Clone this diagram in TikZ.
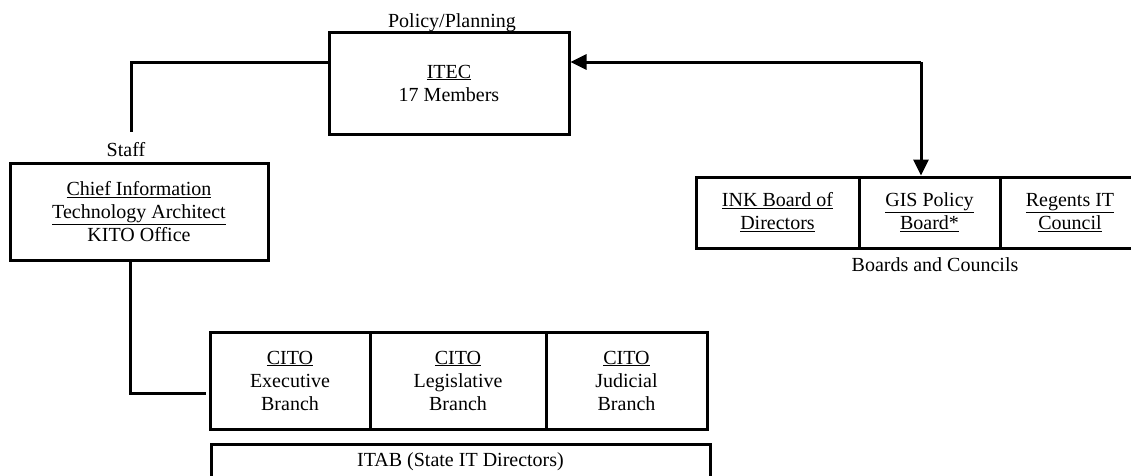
\documentclass[tikz,border=0pt]{standalone}
\usepackage{fontspec}
\setmainfont{Liberation Serif}
\usetikzlibrary{arrows.meta}

\begin{document}
\begin{tikzpicture}[x=1pt,y=-1pt,
  lbl/.style={font=\fontsize{20}{23}\selectfont, inner sep=0pt, align=center},
  orgbox/.style={draw, line width=3pt, inner sep=0pt, align=center,
                 font=\fontsize{20}{23}\selectfont},
  link/.style={line width=3pt},
  arr/.style={line width=3pt, -{Triangle[length=16pt,width=15pt]}}]

\useasboundingbox (0,0) rectangle (1131,475);
\clip (0,0) rectangle (1131,475);
\fill[white] (0,0) rectangle (1131,475);

% policy / planning committee
\node[orgbox, minimum width=240pt, minimum height=102pt] (itec) at (449,83)
  {\underline{ITEC}\\17 Members};
\node[lbl] (policy) at (452,23) {Policy/Planning};

% architect's office
\node[orgbox, minimum width=258pt, minimum height=97pt] (chief) at (139,211.5)
  {\underline{Chief Information}\\\underline{Technology Architect}\\KITO Office};
\node[lbl] (staff) at (126,150) {Staff};
\coordinate (stafftop) at (131,132);

% boards and councils
\node[orgbox, minimum width=163pt, minimum height=71pt] (ink) at (777.5,212.5)
  {\underline{INK Board of}\\\underline{Directors}};
\node[orgbox, minimum width=141pt, minimum height=71pt] (gis) at (929.5,212.5)
  {\underline{GIS Policy}\\\underline{Board*}};
\node[orgbox, minimum width=140pt, minimum height=71pt] (regents) at (1070,212.5)
  {\underline{Regents IT}\\\underline{Council}};
\node[lbl] (boards) at (935,265) {Boards and Councils};

% branch CITOs
\node[orgbox, minimum width=160pt, minimum height=97pt] (exec) at (290,380.5)
  {\underline{CITO}\\Executive\\Branch};
\node[orgbox, minimum width=176pt, minimum height=97pt] (leg) at (458,380.5)
  {\underline{CITO}\\Legislative\\Branch};
\node[orgbox, minimum width=161pt, minimum height=97pt] (jud) at (626.5,380.5)
  {\underline{CITO}\\Judicial\\Branch};

% IT directors
\node[orgbox, minimum width=499pt, minimum height=36pt] (itab) at (460.5,462)
  {ITAB (State IT Directors)};

% connectors
\draw[link] ([yshift=21pt]itec.west) -| (stafftop);
\draw[link, shorten >=3pt] ([xshift=-9pt]chief.south) |- ([yshift=-12.5pt]exec.west);

\coordinate (junc) at (921,62);
\draw[arr] (junc) -- (junc -| itec.east);
\draw[arr] (junc) -- (junc |- gis.north);
\end{tikzpicture}
\end{document}
